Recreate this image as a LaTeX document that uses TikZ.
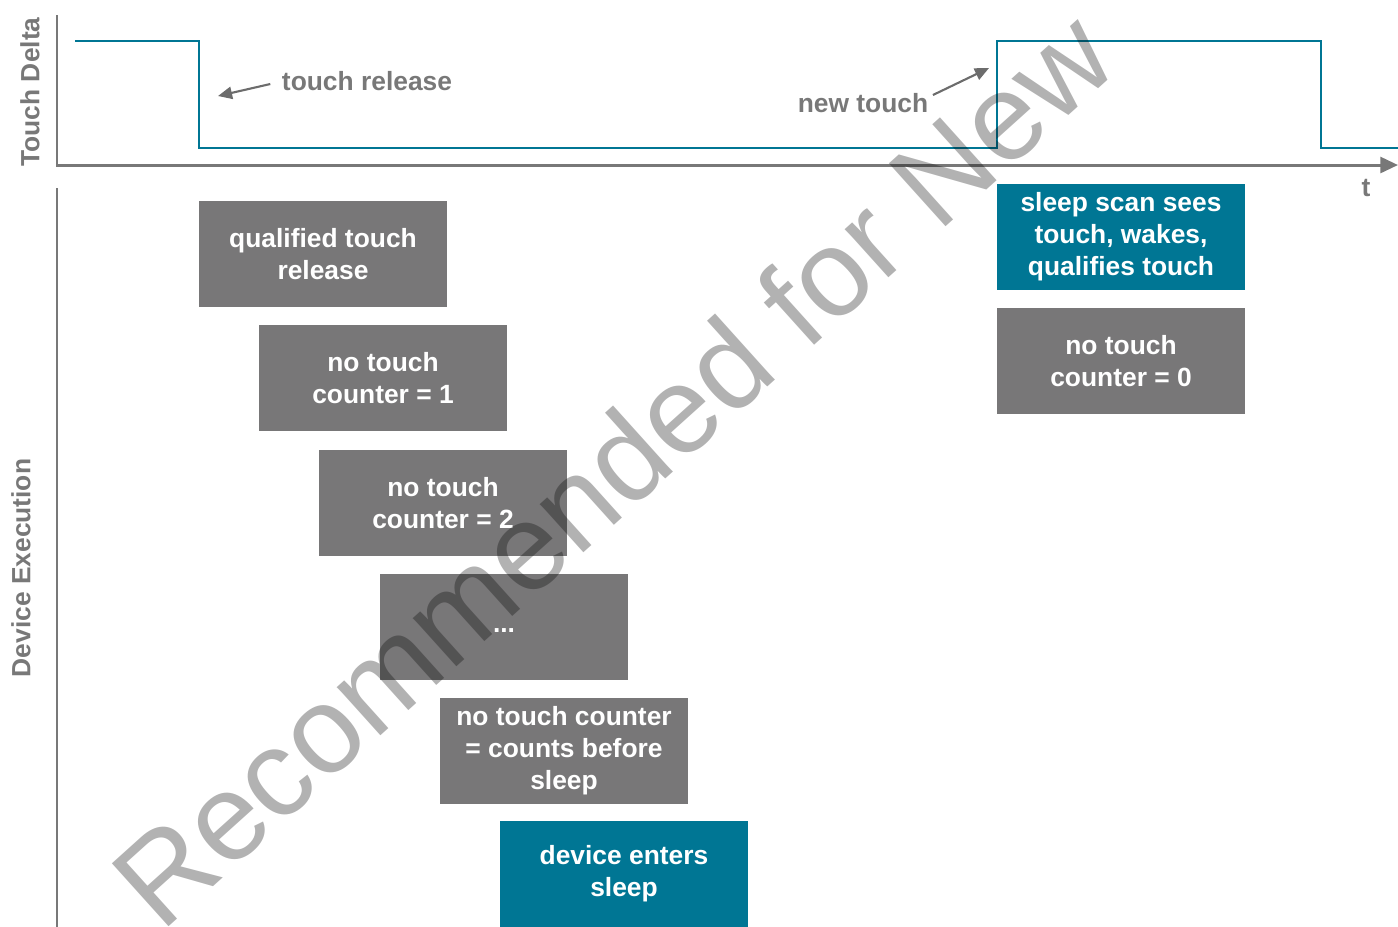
\documentclass[tikz,border=0pt]{standalone}
\usepackage{fontspec}
\setmainfont{Liberation Sans}
\usetikzlibrary{arrows.meta}
\definecolor{boxgray}{RGB}{120,119,120}
\definecolor{titeal}{RGB}{0,118,148}
\definecolor{axisgray}{RGB}{120,120,120}

\begin{document}
\begin{tikzpicture}[x=0.01cm, y=-0.01cm,
		box/.style={fill=boxgray, text=white, minimum width=2.48cm, minimum height=1.06cm, inner sep=0pt, align=center, font=\bfseries\fontsize{7.5}{9.1}\selectfont},
		wake/.style={box, fill=titeal},
		lbl/.style={text=axisgray, font=\bfseries\fontsize{7.5}{9.1}\selectfont, inner sep=0pt},
		axis/.style={draw=axisgray, line width=0.85pt},
		pointer/.style={draw=axisgray!90!black, line width=0.6pt, -{Triangle[length=4pt, width=3.5pt]}}]
				\useasboundingbox (0,0) rectangle (1398,926);
				\clip (0,0) rectangle (1398,926);
				
				% axes
				\draw[axis, -{Triangle[length=5pt, width=4.5pt]}] (57,15) -- (57,165) -- (1398,165);
				\draw[axis] (57,188) -- (57,930);
				\node[lbl, rotate=90] (Y1) at (30,92) {Touch Delta};
				\node[lbl, rotate=90] (Y2) at (21,568) {Device Execution};
				\node[lbl] (T) at (1366,188) {t};
				
				% touch delta signal
				\draw[titeal, line width=0.7pt] (75,41) -- (199,41) -- (199,148) -- (997,148) -- (997,41) -- (1321,41) -- (1321,148) -- (1400,148);
				
				\node[lbl] (R) at (367,81) {touch release};
				\node[lbl] (N) at (863,103) {new touch};
				\coordinate (r) at (218,96);
				\coordinate (n) at (989,68);
				\draw[pointer] (R.west) ++(-11,3) -- (r);
				\draw[pointer] (N.east) ++(4,-8) -- (n);
				
				% device execution
				\node[box] (A) at (323,254) {qualified touch\\release};
				\node[box] (B) at (383,378) {no touch\\counter = 1};
				\node[box] (C) at (443,503) {no touch\\counter = 2};
				\node[box] (D) at (504,627) {\raisebox{-3pt}{...}};
				\node[box] (E) at (564,751) {no touch counter\\= counts before\\sleep};
				\node[wake] (F) at (624,874) {device enters\\sleep};
				\node[wake] (G) at (1121,237) {sleep scan sees\\touch, wakes,\\qualifies touch};
				\node[box] (H) at (1121,361) {no touch\\counter = 0};
				
				% watermark
				\node[rotate=42, text=black, text opacity=0.3, font=\fontsize{35}{40}\selectfont] (W) at (612,468) {Recommended for New};
			\end{tikzpicture}
\end{document}
